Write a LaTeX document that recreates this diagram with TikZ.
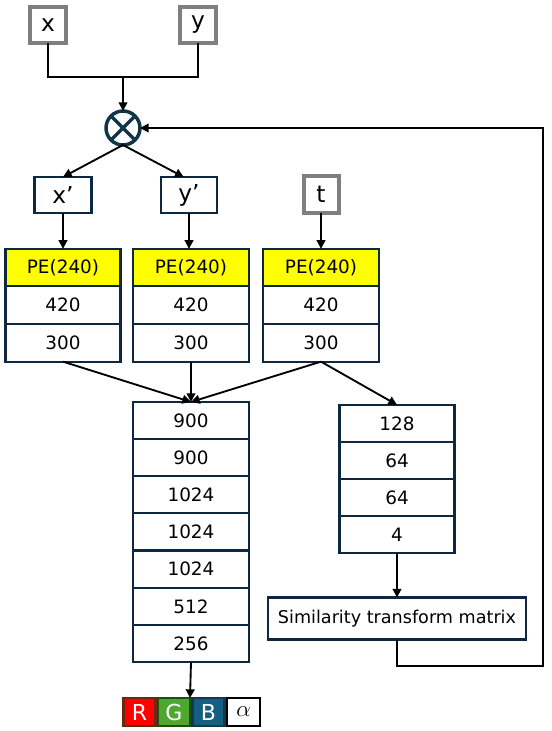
\documentclass[tikz,border=0pt]{standalone}
\usepackage{fontspec}
\setmainfont{DejaVu Sans}
\usetikzlibrary{arrows.meta,positioning}
\definecolor{navy}{HTML}{0E2841}
\definecolor{ring}{HTML}{0F3547}
\definecolor{boxgray}{HTML}{7F7F7F}
\definecolor{peyellow}{HTML}{FFFF00}
\definecolor{rred}{HTML}{FF0000}
\definecolor{rborder}{HTML}{6B2A10}
\definecolor{ggreen}{HTML}{4EA72E}
\definecolor{gborder}{HTML}{1E4D12}
\definecolor{bblue}{HTML}{156082}
\definecolor{bborder}{HTML}{0E3A4A}
\tikzset{
  cell/.style={draw=navy, line width=1.6pt, fill=white, inner sep=0pt, outer sep=0pt,
    minimum width=#1*0.75pt, minimum height=37.3*0.75pt,
    font=\fontsize{13.8}{16}\selectfont},
  cell/.default=116,
  pecell/.style={cell=#1, fill=peyellow},
  pecell/.default=116,
  inbox/.style={draw=boxgray, line width=3pt, fill=white, inner sep=0pt, outer sep=0pt,
    minimum width=36*0.75pt, minimum height=36*0.75pt,
    font=\fontsize{17.5}{19}\selectfont},
  primebox/.style={draw=navy, line width=1.6pt, fill=white, inner sep=0pt, outer sep=0pt,
    minimum width=#1*0.75pt, minimum height=36*0.75pt,
    font=\fontsize{17.5}{19}\selectfont},
  chan/.style={line width=1.6pt, inner sep=0pt, outer sep=0pt,
    minimum width=32*0.75pt, minimum height=28*0.75pt,
    font=\fontsize{16.5}{18}\selectfont},
  arr/.style={line width=1.4pt, -{Triangle[length=6.5pt,width=6.5pt]}},
  ln/.style={line width=1.4pt},
}
\begin{document}
\begin{tikzpicture}[x=0.75pt,y=-0.75pt]
\useasboundingbox (0,0) rectangle (551,731);
% inputs
\node[inbox] (x) at (48,25) {x};
\node[inbox] (y) at (198,25) {y};
\coordinate (join) at (123,77);
% multiply
\node[circle, draw=ring, line width=2.6pt, minimum size=34*0.75pt, inner sep=0pt, outer sep=0pt, fill=white] (circ) at (123,128) {};
\draw[ring, line width=2.6pt] (circ.45) -- (circ.225);
\draw[ring, line width=2.6pt] (circ.135) -- (circ.315);
% primed
\node[primebox=57] (xp) at (63,195) {x’};
\node[primebox=56] (yp) at (189,195) {y’};
\node[inbox, minimum width=35*0.75pt, minimum height=37*0.75pt] (t) at (321,194.5) {t};
% PE columns
\node[pecell=115] (a1) at (63,267.5) {PE(240)};
\node[cell=115] (a2) at (63,305) {420};
\node[cell=115] (a3) at (63,343) {300};
\node[pecell] (p1) at (191,267.5) {PE(240)};
\node[cell] (p2) at (191,305) {420};
\node[cell] (p3) at (191,343) {300};
\node[pecell] (q1) at (321,267.5) {PE(240)};
\node[cell] (q2) at (321,305) {420};
\node[cell] (q3) at (321,343) {300};
% big column
\node[cell] (b1) at (191,420.6) {900};
\node[cell] (b2) at (191,457.7) {900};
\node[cell] (b3) at (191,494.9) {1024};
\node[cell] (b4) at (191,532) {1024};
\node[cell] (b5) at (191,569.1) {1024};
\node[cell] (b6) at (191,606.3) {512};
\node[cell] (b7) at (191,643.4) {256};
% right column
\node[cell=115] (r1) at (397,423.5) {128};
\node[cell=115] (r2) at (397,460.5) {64};
\node[cell=115] (r3) at (397,497.5) {64};
\node[cell=115] (r4) at (397,534.5) {4};
\node[cell=258, minimum height=42*0.75pt, font=\fontsize{13.2}{15}\selectfont] (sim) at (397,618.5) {Similarity transform matrix};
% RGB alpha
\node[chan, draw=rborder, fill=rred, text=white] (cR) at (139.5,712) {R};
\node[chan, draw=gborder, fill=ggreen, text=white] (cG) at (174,712) {G};
\node[chan, draw=bborder, fill=bblue, text=white] (cB) at (208.5,712) {B};
\node[chan, draw=black, fill=white, minimum width=33*0.75pt, font=\fontsize{19}{20}\selectfont] (cA) at (243.5,712) {$\alpha$};
\coordinate (fb) at (543,666);
% connectors
\draw[ln] (x.south) |- (join);
\draw[ln] (y.south) |- (join);
\draw[arr] (join) -- (circ.north);
\draw[arr] (circ.south) -- (xp.north);
\draw[arr] (circ.south) -- ([xshift=-4pt]yp.north);
\draw[arr] (xp.south) -- (a1.north);
\draw[arr] (yp.south) -- (yp.south |- p1.north);
\draw[arr] (t.south) -- (q1.north);
\draw[arr] (a3.south) -- (b1.north);
\draw[arr] (p3.south) -- (b1.north);
\draw[arr] (q3.south) -- (b1.north);
\draw[arr] (q3.south) -- (r1.north);
\draw[arr] (r4.south) -- (sim.north);
\draw[arr] (sim.south) |- (fb) |- (circ.east);
\draw[arr] (b7.south) -- (cG.north east);
\end{tikzpicture}
\end{document}
